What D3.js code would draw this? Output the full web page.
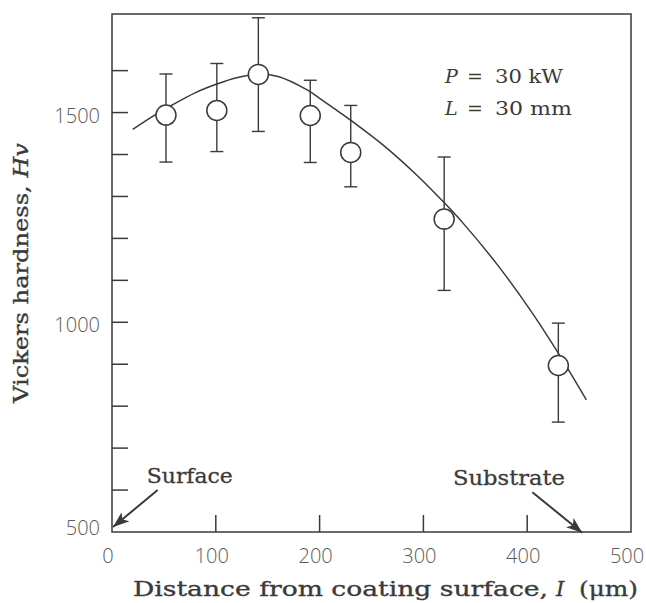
<!DOCTYPE html>
<html>
<head>
<meta charset="utf-8">
<script src="https://cdn.jsdelivr.net/npm/d3@7"></script>
<style>
  body { margin: 0; background: #fff; }
  svg { display: block; }
</style>
</head>
<body>
<svg class="grafico" width="646" height="603"></svg>
<script>
// datos
const distancia = [52, 101, 141, 191, 230, 320, 430]
const dureza = [1494, 1505, 1591, 1493, 1405, 1246, 897]
const errorSup = [1592, 1617, 1726, 1577, 1517, 1394, 998]
const errorInf = [1382, 1407, 1455, 1381, 1323, 1076, 762]

const curvaX = [20, 40, 56, 80, 101, 120, 140, 160, 188, 200, 215, 231, 261, 294, 322, 338, 371, 403, 428, 457]
const curvaY = [1460, 1492, 1515, 1547, 1568, 1583, 1591, 1586, 1554, 1534, 1508, 1480, 1423, 1350, 1280, 1237, 1138, 1029, 934, 815]

const ticksX = [100, 200, 300, 400]
const etiquetasX = [0, 100, 200, 300, 400, 500]
const ticksY = [600, 700, 800, 900, 1000, 1100, 1200, 1300, 1400, 1500, 1600]
const etiquetasY = [500, 1000, 1500]

const margin = {top: 14, right: 15, bottom: 71, left: 112}
const ancho = 646, alto = 603

const svg = d3.select('.grafico')

/*ESCALAS*/
const x = d3.scaleLinear().domain([0, 500]).range([margin.left, ancho - margin.right])
const y = d3.scaleLinear().domain([500, 1735]).range([alto - margin.bottom, margin.top])

const tinta = '#3a3a3a'

/*MARCO*/
svg.append('rect')
  .attr('x', x(0)).attr('y', y(1735))
  .attr('width', x(500) - x(0)).attr('height', y(500) - y(1735))
  .attr('fill', 'none').attr('stroke', tinta).attr('stroke-width', 1.5)

/*TICKS hacia adentro*/
svg.append('g').selectAll('line').data(ticksY).join('line')
  .attr('x1', x(0)).attr('x2', x(0) + 16)
  .attr('y1', d => y(d)).attr('y2', d => y(d))
  .attr('stroke', tinta).attr('stroke-width', 1.5)

svg.append('g').selectAll('line').data(ticksX).join('line')
  .attr('x1', d => x(d)).attr('x2', d => x(d))
  .attr('y1', y(500)).attr('y2', y(500) - 17)
  .attr('stroke', tinta).attr('stroke-width', 1.5)

/*ETIQUETAS DE TICKS*/
svg.append('g').selectAll('text').data(etiquetasX).join('text')
  .attr('x', d => x(d) - 4).attr('y', y(500) + 31)
  .attr('text-anchor', 'middle')
  .attr('font-family', 'Open Sans').attr('font-size', 20).attr('font-weight', 300)
  .attr('fill', '#5a5a5a')
  .text(d => d)

svg.append('g').selectAll('text').data(etiquetasY).join('text')
  .attr('x', x(0) - 12).attr('y', d => y(d) + (d === 500 ? 3 : 10))
  .attr('text-anchor', 'end')
  .attr('font-family', 'Open Sans').attr('font-size', 20).attr('font-weight', 300)
  .attr('fill', '#5a5a5a')
  .text(d => d)

/*TITULOS DE EJES*/
const tituloY = svg.append('text')
  .attr('transform', 'translate(28,273) rotate(-90)')
  .attr('text-anchor', 'middle')
  .attr('font-family', 'DejaVu Serif').attr('font-size', 21)
  .attr('fill', tinta).attr('stroke', tinta).attr('stroke-width', 0.35)
  .attr('textLength', 260).attr('lengthAdjust', 'spacingAndGlyphs')
tituloY.append('tspan').text('Vickers hardness, ')
tituloY.append('tspan').attr('font-style', 'italic').text('Hv')

const tituloX = svg.append('g')
  .attr('font-family', 'DejaVu Serif').attr('font-size', 21)
  .attr('fill', tinta).attr('stroke', tinta).attr('stroke-width', 0.35)
tituloX.append('text')
  .attr('x', 133).attr('y', 596)
  .attr('textLength', 415).attr('lengthAdjust', 'spacingAndGlyphs')
  .text('Distance from coating surface,')
tituloX.append('text')
  .attr('x', 556).attr('y', 596).attr('font-style', 'italic')
  .text('I')
tituloX.append('text')
  .attr('x', 579).attr('y', 596)
  .attr('textLength', 59).attr('lengthAdjust', 'spacingAndGlyphs')
  .text('(μm)')

/*CURVA*/
const linea = d3.line()
  .x((d, i) => x(curvaX[i]))
  .y(d => y(d))
  .curve(d3.curveCatmullRom.alpha(0.5))

svg.append('path')
  .attr('d', linea(curvaY))
  .attr('fill', 'none').attr('stroke', tinta).attr('stroke-width', 1.5)

/*BARRAS DE ERROR*/
const barras = svg.append('g').attr('stroke', tinta).attr('stroke-width', 1.4)
barras.selectAll('.vert').data(distancia).join('line').attr('class', 'vert')
  .attr('x1', d => x(d)).attr('x2', d => x(d))
  .attr('y1', (d, i) => y(errorSup[i])).attr('y2', (d, i) => y(errorInf[i]))
barras.selectAll('.sup').data(distancia).join('line').attr('class', 'sup')
  .attr('x1', d => x(d) - 6.5).attr('x2', d => x(d) + 6.5)
  .attr('y1', (d, i) => y(errorSup[i])).attr('y2', (d, i) => y(errorSup[i]))
barras.selectAll('.inf').data(distancia).join('line').attr('class', 'inf')
  .attr('x1', d => x(d) - 6.5).attr('x2', d => x(d) + 6.5)
  .attr('y1', (d, i) => y(errorInf[i])).attr('y2', (d, i) => y(errorInf[i]))

/*PUNTOS*/
svg.append('g').selectAll('circle').data(distancia).join('circle')
  .attr('cx', d => x(d)).attr('cy', (d, i) => y(dureza[i]))
  .attr('r', 10)
  .attr('fill', '#fff').attr('stroke', tinta).attr('stroke-width', 1.5)

/*ANOTACION P y L*/
const anot = svg.append('g')
  .attr('font-family', 'DejaVu Serif').attr('font-size', 19).attr('fill', tinta)
anot.append('text').attr('x', 445).attr('y', 83).attr('font-style', 'italic').text('P')
anot.append('text').attr('x', 467).attr('y', 83).text('=')
anot.append('text').attr('x', 495).attr('y', 83)
  .attr('textLength', 68).attr('lengthAdjust', 'spacingAndGlyphs').text('30 kW')
anot.append('text').attr('x', 445).attr('y', 115).attr('font-style', 'italic').text('L')
anot.append('text').attr('x', 467).attr('y', 115).text('=')
anot.append('text').attr('x', 495).attr('y', 115)
  .attr('textLength', 77).attr('lengthAdjust', 'spacingAndGlyphs').text('30 mm')

/*FLECHAS Surface / Substrate*/
svg.append('defs').append('marker')
  .attr('id', 'punta')
  .attr('viewBox', '0 0 16 12')
  .attr('refX', 16).attr('refY', 6)
  .attr('markerWidth', 16).attr('markerHeight', 12)
  .attr('markerUnits', 'userSpaceOnUse')
  .attr('orient', 'auto')
  .append('path').attr('d', 'M0,0 L16,6 L0,12 L4,6 Z').attr('fill', tinta)

svg.append('line')
  .attr('x1', x(44)).attr('y1', y(600)).attr('x2', x(1)).attr('y2', y(512))
  .attr('stroke', tinta).attr('stroke-width', 2).attr('marker-end', 'url(#punta)')
svg.append('line')
  .attr('x1', x(405)).attr('y1', y(595)).attr('x2', x(453)).attr('y2', y(498))
  .attr('stroke', tinta).attr('stroke-width', 2).attr('marker-end', 'url(#punta)')

const notas = svg.append('g')
  .attr('font-family', 'DejaVu Serif').attr('font-size', 21)
  .attr('fill', tinta).attr('stroke', tinta).attr('stroke-width', 0.3)
notas.append('text')
  .attr('x', x(33.5)).attr('y', 483)
  .attr('textLength', 86).attr('lengthAdjust', 'spacingAndGlyphs')
  .text('Surface')
notas.append('text')
  .attr('x', 453).attr('y', 485)
  .attr('textLength', 112).attr('lengthAdjust', 'spacingAndGlyphs')
  .text('Substrate')
</script>
</body>
</html>
